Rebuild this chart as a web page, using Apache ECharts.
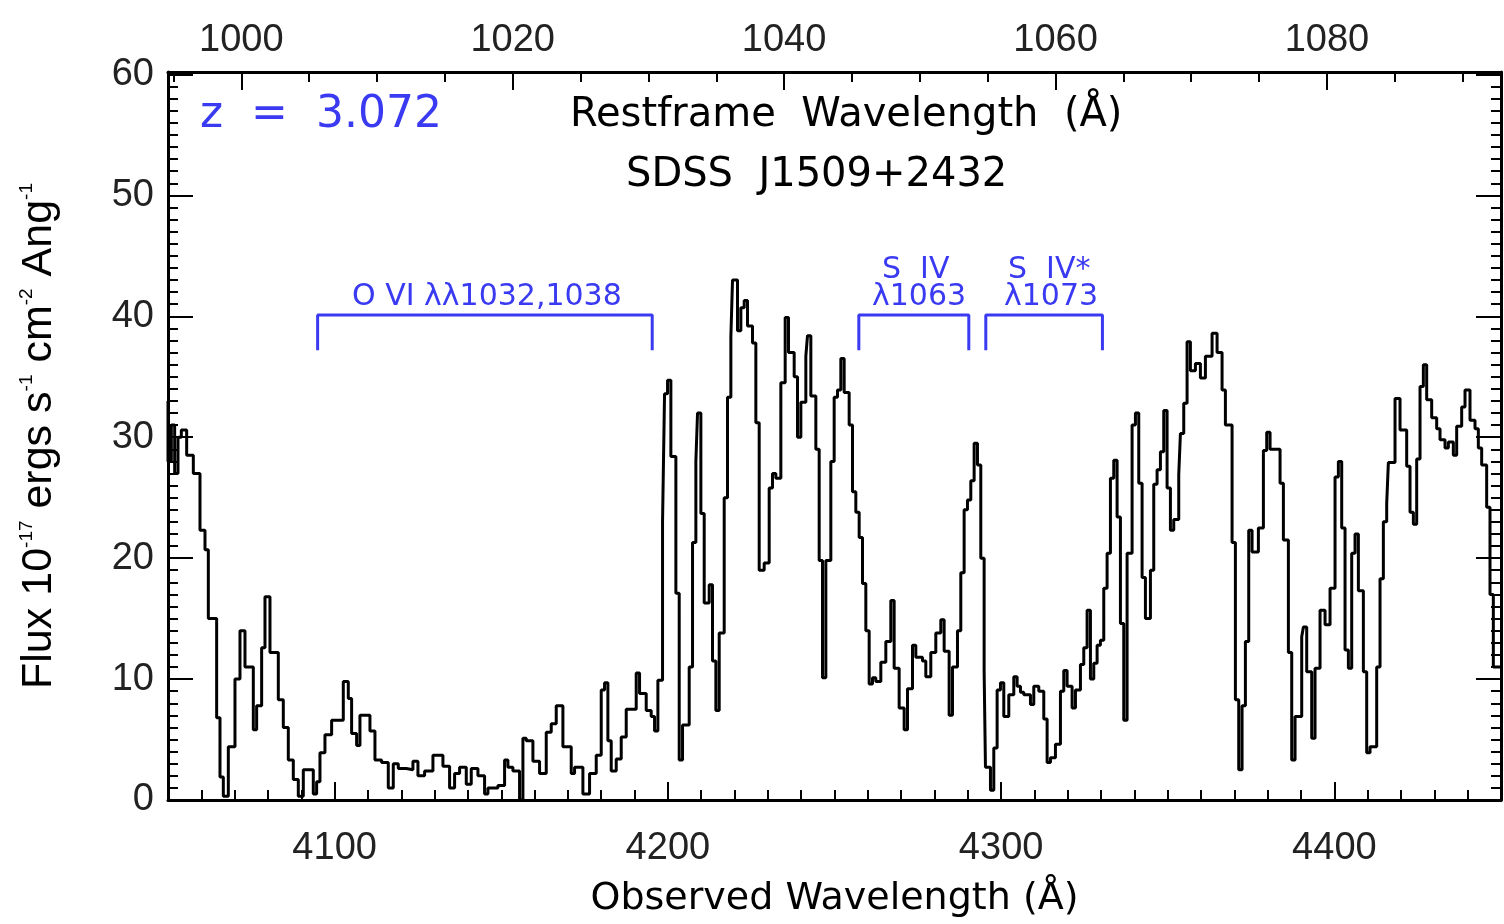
<!DOCTYPE html>
<html>
<head>
<meta charset="utf-8">
<script src="https://cdn.jsdelivr.net/npm/echarts@6/dist/echarts.min.js"></script>
<style>html,body{margin:0;padding:0;background:#fff}#chart{width:1504px;height:924px}</style>
</head>
<body>
<div id="chart"></div>
<script>
// observed wavelength (A) where each step starts, and flux (1e-17 erg/s/cm2/A)
const wave = [4050,4051,4052,4053,4054,4055.6,4057.6,4059.6,4061.1,4062.1,4064.6,4065.6,4066.6,4068.1,4070.1,4071.6,4073.1,4075.6,4076.6,4078.1,4079.1,4080.6,4083.1,4084.6,4086.1,4087.6,4089.1,4090.6,4093.6,4094.6,4095.6,4097.1,4099.1,4102.6,4104.1,4105.1,4106.6,4107.6,4110.6,4112.1,4114.1,4116.1,4117.6,4119.1,
  4121.5,4123.5,4125,4127,4129.5,4132.5,4134.5,4136,4137.5,4139.5,4141,4143,4145,4146,4149,4151,4152,4153.5,4155.5,4156.5,4157.5,4159.5,4161.5,4163.5,4165,4166.5,4168.5,4171,4172,4174.5,4176.5,4178.5,4180,4181,4182,4183,4184.5,4186,4187.5,4190.5,4191.5,4193.5,4195,4196,4197,
  4198.4,4199,4199.9,4200.9,4202.4,4203.4,4204.4,4206.4,4207.4,4208.4,4208.9,4209.9,4210.9,4212.4,4213.4,4214.4,4215.4,4216.9,4217.9,4218.9,4219.4,4220.9,4221.9,4222.9,4223.9,4225.4,4226.4,4227.4,4228.9,4230.4,4231.4,4232.4,4233.9,4235.2,4236.2,4237.9,4238.9,4239.9,4241.4,4241.9,4242.9,4244.4,4245.4,4246.4,4247.4,4248.9,4249.9,4250.9,4251.9,4252.9,4254.4,4255.4,4256.4,4257.4,4258.4,4259.4,4260.4,4261.4,4262.4,4263.9,4265.4,4266.9,4267.9,4269.4,4270.9,4271.9,4273.4,4274.4,4276.4,4277.4,4278.9,4280.4,4281.9,4282.9,4284.4,4285.4,4286.9,4287.9,4288.9,4289.9,4290.9,4291.9,4292.9,4293.9,4294.9,
  4295.3,4296.8,4297.8,4298.8,4299.8,4300.8,4302.3,4303.8,4304.8,4305.8,4306.8,4308.8,4309.8,4311.3,4312.8,4313.8,4314.8,4316.3,4317.8,4318.8,4319.8,4321.3,4322.3,4323.8,4324.8,4325.8,4326.8,4327.8,4328.8,4329.8,4330.8,4331.8,4332.8,4333.8,4334.8,4335.8,4336.8,4337.8,4339.3,4340.3,4341.3,4342.3,4343.3,4344.8,4345.8,4346.8,4347.8,4348.8,4349.8,4350.8,4351.8,4353.3,4353.8,4354.8,4355.8,4356.8,4358.3,4359.8,4361.3,4363.3,4364.8,4366.3,4367.3,4369.3,4370.3,4371.3,4372.3,4373.3,4374.3,4375.3,
  4377.2,4378.7,4379.7,4380.7,4383.7,4384.7,4386.2,4387.2,4388.2,4390.2,4390.7,4391.7,4393.2,4394.2,4395.7,4397.2,4398.7,4400.2,4401.2,4402.2,4403.2,4404.2,4405.2,4406.2,4407.2,4408.7,4409.7,4410.7,4412.7,4413.7,4414.7,4415.7,4416.2,4418.2,4419.7,4421.7,4422.7,4423.7,4424.7,4425.7,4426.7,4427.7,4429.2,4430.7,4431.7,4433.2,4434.2,4435.7,4436.7,4438.2,4439.2,4440.7,4442.2,4443.2,4444.2,4445.7,4446.7,4447.7,4449,4450];
const flux = [33,28,31,27,30,30.6,28.5,27,22.3,20.7,15,6.8,1.9,0.3,4.4,10,14,11,5.8,7.8,12.6,16.8,12.2,8.3,6,3.3,1.7,0.3,2.5,0.5,1.5,3.9,5.4,6.6,9.8,8.4,5.5,4.5,7,5.7,3.3,3.1,1,3,
  2.6,2.5,3.2,2,2.4,3.7,2.8,1,2.2,2.7,1.3,2.6,2,0.5,1,1.2,3.3,2.7,2.4,0,5.1,4.9,3.2,2.2,5.6,6.3,7.8,4.4,2.2,2.7,0.5,2.2,3.7,9.1,9.7,4.9,2.4,3.4,5.2,7.5,10.5,8.8,7.4,6.9,5.7,
  9.9,23,33.6,34.7,28.4,17.1,3.3,6.2,11,21.3,28,32,23.7,16.3,17.8,11.5,7.4,13.8,25,33.3,38.3,43,38.8,40.7,41.3,39.2,37.8,31.2,19,19.6,25.8,27,26.6,34.5,39.9,37,35,30,32.9,36.7,38.4,33.4,29,19.8,10.1,19.8,28,33.3,33.9,36.5,33.7,31,25.5,23.8,21.7,17.9,14,9.6,10.1,9.8,11.4,13.1,16.5,10.9,7.6,5.8,9.2,12.8,11.8,11.5,10.2,12.2,13.8,14.9,12.3,7,11,14,18.8,24,24.8,26.4,29.5,27.7,20,
  10.6,2.7,0.8,4.3,9.1,9.7,6.9,8.7,10.2,9.4,8.9,8.7,7.9,9.4,9,6.7,3.1,3.5,4.6,9,10.7,9.4,7.6,9.1,11.2,12.6,15.7,10,11.3,12.8,13.2,17.5,20.4,26.6,28.1,23.4,14.6,6.6,20.4,31,32,26.2,18.4,15,19,26.1,27.3,28.8,32.2,25.8,22.3,23.2,26.9,30.3,32.8,37.9,35.5,36.1,34.9,36.7,38.6,37,33.9,31,21.3,8.3,2.5,7.8,13.1,22.3,
  20.5,22.5,28.9,30.4,29,26.2,21.5,12.2,3.3,6.9,13.5,14.3,10.6,5.1,10.9,15.7,14.5,17.5,26.7,28,22.5,12.4,10.9,20.4,22,17.3,10.6,3.9,4.4,11,18.3,23,24.5,27.9,33.2,30.6,27.6,23.8,22.8,28.2,34.2,36,33.1,31.6,30.7,29.8,29.1,29.6,28.5,30.9,32.5,33.9,31.4,30.7,29.1,27.7,24.2,17,11,11];

const redshift = 3.072;
const xMin = 4050, xMax = 4450;
const obsLabels = [4100, 4200, 4300, 4400];
const restLabels = [1000, 1020, 1040, 1060, 1080];

// absorption-line brackets: [start, end] in observed A, top and leg bottom in flux
const brackets = [[4094.9, 4195.3], [4257.3, 4290.3], [4295.4, 4330.4]];
const bracketTop = 40.1, bracketLeg = 37.2;

function range(a, b, s) { let r = []; for (let v = a; v <= b + 1e-9; v += s) r.push(+v.toFixed(3)); return r; }

const specData = wave.map((w, i) => [w, flux[i]]);
let bracketData = [];
brackets.forEach(b => {
  bracketData.push([b[0], bracketLeg], [b[0], bracketTop], [b[1], bracketTop], [b[1], bracketLeg], [null, null]);
});

const restMin = xMin / (1 + redshift), restMax = xMax / (1 + redshift);
const tickFont = {fontFamily: 'Liberation Sans', fontSize: 38, color: '#222', formatter: v => String(v)};
const blue = '#3a3af2';

const chart = echarts.init(document.getElementById('chart'));
chart.setOption({
  animation: false,
  grid: {left: 168, right: 3, top: 72, bottom: 124},
  xAxis: [
    {type: 'value', min: xMin, max: xMax, position: 'bottom',
     axisLine: {lineStyle: {color: '#000', width: 3}},
     axisTick: {inside: true, length: 18, customValues: obsLabels, lineStyle: {color: '#000', width: 2}},
     axisLabel: Object.assign({customValues: obsLabels, margin: 30}, tickFont),
     splitLine: {show: false},
     name: 'Observed Wavelength (Å)', nameLocation: 'middle', nameGap: 80,
     nameTextStyle: {fontFamily: 'DejaVu Sans', fontSize: 38, color: '#000'}},
    {type: 'value', min: xMin, max: xMax, position: 'bottom',
     axisLine: {show: false},
     axisTick: {inside: true, length: 10, customValues: range(4050, 4450, 10), lineStyle: {color: '#000', width: 2}},
     axisLabel: {show: false}, splitLine: {show: false}},
    {type: 'value', min: restMin, max: restMax, position: 'top',
     axisLine: {lineStyle: {color: '#000', width: 3}},
     axisTick: {inside: true, length: 18, customValues: restLabels, lineStyle: {color: '#000', width: 2}},
     axisLabel: Object.assign({customValues: restLabels, margin: 12}, tickFont),
     splitLine: {show: false}},
    {type: 'value', min: restMin, max: restMax, position: 'top',
     axisLine: {show: false},
     axisTick: {inside: true, length: 10, customValues: range(995, 1090, 5), lineStyle: {color: '#000', width: 2}},
     axisLabel: {show: false}, splitLine: {show: false}}
  ],
  yAxis: [
    {type: 'value', min: 0, max: 60.2, interval: 10, position: 'left',
     axisLine: {show: true, lineStyle: {color: '#000', width: 3}},
     axisTick: {inside: true, length: 25, lineStyle: {color: '#000', width: 2}},
     minorTick: {show: true, splitNumber: 10, length: 10, lineStyle: {color: '#000', width: 2}},
     axisLabel: Object.assign({margin: 14}, tickFont),
     splitLine: {show: false},
     name: 'Flux 10{s|-17} ergs s{s|-1} cm{s|-2} Ang{s|-1}', nameLocation: 'middle', nameGap: 106,
     nameTextStyle: {fontFamily: 'Liberation Sans', fontSize: 43, color: '#000',
       rich: {s: {fontSize: 19, verticalAlign: 'top', padding: [0, 0, 26, 0], fontFamily: 'Liberation Sans'}}}},
    {type: 'value', min: 0, max: 60.2, interval: 10, position: 'right',
     axisLine: {show: true, lineStyle: {color: '#000', width: 3}},
     axisTick: {inside: true, length: 25, lineStyle: {color: '#000', width: 2}},
     minorTick: {show: true, splitNumber: 10, length: 10, lineStyle: {color: '#000', width: 2}},
     axisLabel: {show: false}, splitLine: {show: false}}
  ],
  series: [
    {type: 'line', step: 'start', data: specData, symbol: 'none',
     lineStyle: {color: '#000', width: 3}, clip: true},
    {type: 'line', data: bracketData, symbol: 'none', connectNulls: false,
     lineStyle: {color: blue, width: 3}}
  ],
  graphic: [
    {type: 'text', left: 200, top: 94, style: {text: 'z  =  3.072', fill: blue, font: '44px "DejaVu Sans"'}},
    {type: 'text', left: 570, top: 96, style: {text: 'Restframe  Wavelength  (Å)', fill: '#000', font: '40px "DejaVu Sans"'}},
    {type: 'text', left: 626, top: 156, style: {text: 'SDSS  J1509+2432', fill: '#000', font: '40px "DejaVu Sans"'}},
    {type: 'text', left: 352, top: 282, style: {text: 'O VI λλ1032,1038', fill: blue, font: '30px "DejaVu Sans"'}},
    {type: 'text', left: 882, top: 255, style: {text: 'S  IV', fill: blue, font: '30px "DejaVu Sans"'}},
    {type: 'text', left: 872, top: 282, style: {text: 'λ1063', fill: blue, font: '30px "DejaVu Sans"'}},
    {type: 'text', left: 1008, top: 255, style: {text: 'S  IV*', fill: blue, font: '30px "DejaVu Sans"'}},
    {type: 'text', left: 1004, top: 282, style: {text: 'λ1073', fill: blue, font: '30px "DejaVu Sans"'}}
  ]
});
</script>
</body>
</html>
